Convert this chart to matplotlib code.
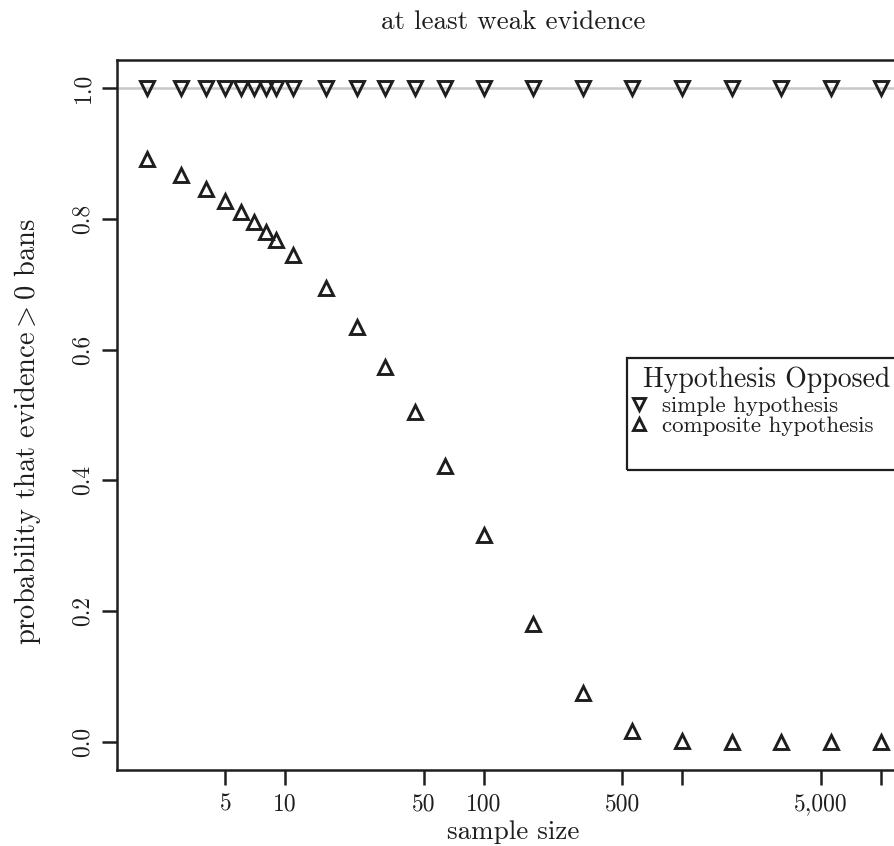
import matplotlib
matplotlib.use('Agg')
import matplotlib.pyplot as plt
import matplotlib.ticker as mticker
from matplotlib.patches import Rectangle

# sample sizes and probabilities
sampleSize = [2, 3, 4, 5, 6, 7, 8, 9, 11, 16, 23, 32, 45, 64,
              100, 178, 316, 562, 1000, 1778, 3162, 5623, 10000]
probSimple = [1.0] * len(sampleSize)
probComposite = [0.891, 0.867, 0.845, 0.827, 0.810, 0.795, 0.780, 0.768,
                 0.744, 0.694, 0.635, 0.573, 0.505, 0.422, 0.317, 0.180,
                 0.075, 0.017, 0.001, 0.0, 0.0, 0.0, 0.0]

xTicks = [5, 10, 50, 100, 500, 1000, 5000, 10000]
xTickLabels = ['5', '10', '50', '100', '500', '', '5,000', '']
yTicks = [0.0, 0.2, 0.4, 0.6, 0.8, 1.0]
yTickLabels = ['0.0', '0.2', '0.4', '0.6', '0.8', '1.0']

plt.rcParams['font.family'] = ['cmr10']
plt.rcParams['mathtext.fontset'] = 'cm'
plt.rcParams['axes.unicode_minus'] = False

W, H = 895, 846
fig = plt.figure(figsize=(W / 100, H / 100), dpi=100)
ax = fig.add_axes([117 / W, 76 / H, (910 - 117) / W, (770 - 60) / H])

ink = '#1e1e1e'

ax.axhline(1.0, color='#c8c8c8', lw=1.8, zorder=1)
ax.plot(sampleSize, probSimple, 'v', ms=10.5, mfc='none', mec=ink, mew=2.1,
        zorder=3, label='simple hypothesis')
ax.plot(sampleSize, probComposite, '^', ms=10.5, mfc='none', mec=ink, mew=2.1,
        zorder=3, label='composite hypothesis')

ax.set_xscale('log')
ax.set_xlim(1.42, 14060)
ax.set_ylim(-0.043, 1.043)

ax.xaxis.set_major_locator(mticker.FixedLocator(xTicks))
ax.xaxis.set_minor_locator(mticker.NullLocator())
ax.set_xticklabels(xTickLabels)
ax.set_yticks(yTicks)
ax.set_yticklabels(yTickLabels, rotation=90, va='center')

ax.tick_params(direction='out', length=10.5, width=1.8, color=ink,
               labelsize=17, labelcolor=ink, pad=6)
for side in ['left', 'top', 'bottom', 'right']:
    ax.spines[side].set_linewidth(1.8)
    ax.spines[side].set_color(ink)

ax.set_title('at least weak evidence', fontsize=19.5, color=ink, pad=22)
ax.set_xlabel('sample size', fontsize=19.5, color=ink, labelpad=4)
ax.set_ylabel(r'probability that evidence$>$0 bans', fontsize=20.5,
              color=ink)
ax.yaxis.set_label_coords(-0.093, 0.477)

# legend, R style: box, title and entries placed separately
boxX0, boxY0, boxX1, boxY1 = 627, 358, 920, 470
fig.patches.append(Rectangle((boxX0 / W, 1 - boxY1 / H),
                             (boxX1 - boxX0) / W, (boxY1 - boxY0) / H,
                             transform=fig.transFigure, fill=False,
                             ec=ink, lw=1.6, zorder=5))
fig.text(643 / W, 1 - 380 / H, 'Hypothesis Opposed', fontsize=20,
         color=ink, ha='left', va='center')
leg = ax.legend(loc='upper left', bbox_to_anchor=(630 / W, 1 - 396 / H),
                bbox_transform=fig.transFigure, frameon=False, fontsize=16.5,
                handlelength=0.8, handletextpad=0.6, labelspacing=0.0,
                borderpad=0, borderaxespad=0, markerscale=0.85)
for txt in leg.get_texts():
    txt.set_color(ink)

fig.savefig('out.png', dpi=100)
